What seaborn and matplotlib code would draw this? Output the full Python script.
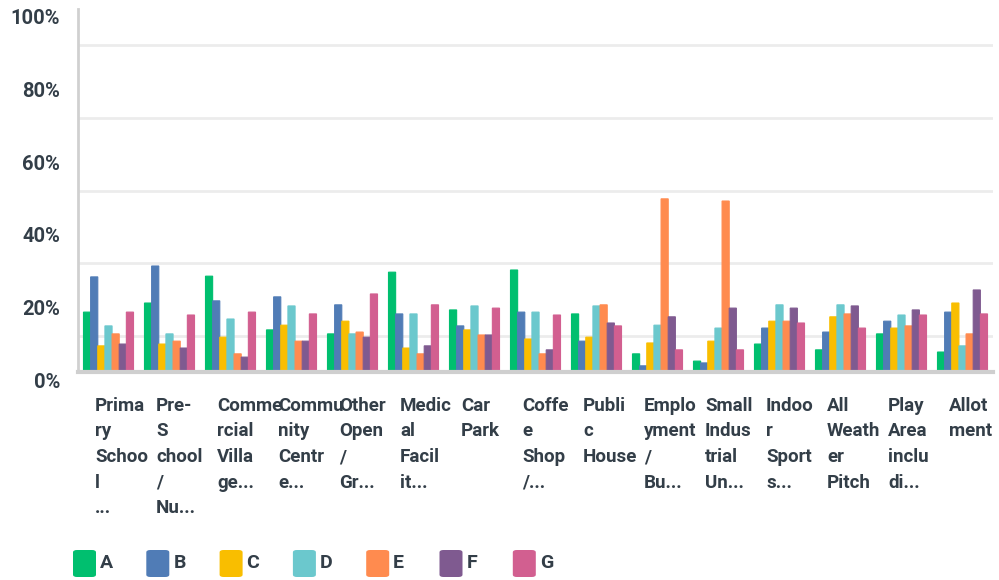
import numpy as np
import pandas as pd
import matplotlib
matplotlib.use("Agg")
import matplotlib.pyplot as plt
import matplotlib.transforms as mtransforms
from matplotlib.patches import FancyBboxPatch
import seaborn as sns

categories = ['Primary School', 'Pre-School / Nursery', 'Commercial Village', 'Community Centre',
              'Other Open / Green', 'Medical Facility', 'Car Park', 'Coffee Shop /', 'Public House',
              'Employment / Business', 'Small Industrial Units', 'Indoor Sports', 'All Weather Pitch',
              'Play Area including', 'Allotments']

tick_labels = ['Prima\nry\nSchoo\nl\n...', 'Pre-\nS\nchool\n/\nNu...', 'Comme\nrcial\nVilla\nge...',
               'Commu\nnity\nCentr\ne...', 'Other\nOpen\n/\nGr...', 'Medic\nal\nFacil\nit...',
               'Car\nPark', 'Coffe\ne\nShop\n/...', 'Publi\nc\nHouse', 'Emplo\nyment\n/\nBu...',
               'Small\nIndus\ntrial\nUn...', 'Indoo\nr\nSport\ns...', 'All\nWeath\ner\nPitch',
               'Play\nArea\ninclu\ndi...', 'Allot\nment']

series = ['A', 'B', 'C', 'D', 'E', 'F', 'G']

A = [16.5, 19.0, 26.4, 11.6, 10.5, 27.5, 17.1, 28.1, 16.0, 5.0, 3.0, 7.7, 6.1, 10.5, 5.5]
B = [26.2, 29.2, 19.6, 20.7, 18.5, 16.0, 12.7, 16.5, 8.5, 1.7, 2.5, 12.1, 11.0, 14.0, 16.5]
C = [7.2, 7.7, 9.6, 12.9, 14.0, 6.6, 11.6, 9.1, 9.6, 8.0, 8.5, 14.0, 15.2, 12.1, 19.0]
D = [12.7, 10.5, 14.6, 18.2, 10.5, 16.0, 18.2, 16.5, 18.2, 12.9, 12.1, 18.5, 18.5, 15.7, 7.2]
E = [10.5, 8.5, 5.0, 8.5, 11.0, 5.0, 10.2, 5.0, 18.5, 47.7, 47.1, 14.0, 16.0, 12.7, 10.5]
F = [7.7, 6.6, 4.1, 8.5, 9.6, 7.2, 10.2, 6.1, 13.5, 15.2, 17.6, 17.6, 18.2, 17.1, 22.6]
G = [16.5, 15.7, 16.5, 16.0, 21.5, 18.5, 17.6, 15.7, 12.7, 6.1, 6.1, 13.5, 12.1, 15.7, 16.0]

colors = ['#00bf6f', '#507cb6', '#f9be00', '#6bc8cd', '#ff8b4f', '#7f5a90', '#d25f90']

rows = []
for name, vals in zip(series, [A, B, C, D, E, F, G]):
    for cat, v in zip(categories, vals):
        rows.append({'category': cat, 'series': name, 'value': v})
df = pd.DataFrame(rows)

sns.set_style('white')
plt.rcParams['font.family'] = ['Roboto', 'DejaVu Sans']
text_color = '#333e48'

fig = plt.figure(figsize=(9.99, 5.8), dpi=100)
ax = fig.add_axes([78 / 999, 208 / 580, 915 / 999, 363 / 580])

sns.barplot(data=df, x='category', y='value', hue='series', palette=colors,
            width=0.82, saturation=1, legend=False, ax=ax, errorbar=None)
# bars touch each other in the original, paint edges in the fill colour
for p in ax.patches:
    p.set_edgecolor(p.get_facecolor())
    p.set_linewidth(0.8)
    p.set_snap(False)

ax.set_ylim(0, 100)
ax.set_xlim(-0.5, len(categories) - 0.5)
for g in [10, 30, 50, 70, 90]:
    ax.axhline(g, color='#ececec', lw=2, zorder=0)

ax.set_yticks([0, 20, 40, 60, 80, 100])
ax.set_yticklabels(['0%', '20%', '40%', '60%', '80%', '100%'])
ax.tick_params(axis='y', length=0, pad=13, labelsize=14.5, labelcolor=text_color)
offset = mtransforms.ScaledTranslation(0, -8 / 100, fig.dpi_scale_trans)
for lab in ax.get_yticklabels():
    lab.set_fontweight('bold')
    lab.set_transform(lab.get_transform() + offset)

ax.set_xticks([])
ax.set_xlabel('')
ax.set_ylabel('')

trans = mtransforms.blended_transform_factory(ax.transData, ax.transAxes)
for i, lab in enumerate(tick_labels):
    ax.text(i - 0.22, -0.068, lab, transform=trans, ha='left', va='top',
            fontsize=13.5, fontweight='bold', color=text_color, linespacing=1.55)

for side in ['top', 'right']:
    ax.spines[side].set_visible(False)
ax.spines['left'].set_color('#d0d0d0')
ax.spines['left'].set_linewidth(2)
ax.spines['bottom'].set_color('#cfcfcf')
ax.spines['bottom'].set_linewidth(3)

# legend drawn by hand: rounded squares + labels
for k, (s, c) in enumerate(zip(series, colors)):
    x0 = 73 + k * 73.3
    sq = FancyBboxPatch((x0 / 999, 1 - 577 / 580), 23 / 999, 27 / 580,
                        boxstyle='round,pad=0,rounding_size=0.004', transform=fig.transFigure,
                        facecolor=c, edgecolor='none')
    fig.patches.append(sq)
    fig.text((x0 + 27) / 999, 1 - 563 / 580, s, ha='left', va='center',
             fontsize=14, fontweight='bold', color=text_color)

fig.savefig('out.png', dpi=100)
